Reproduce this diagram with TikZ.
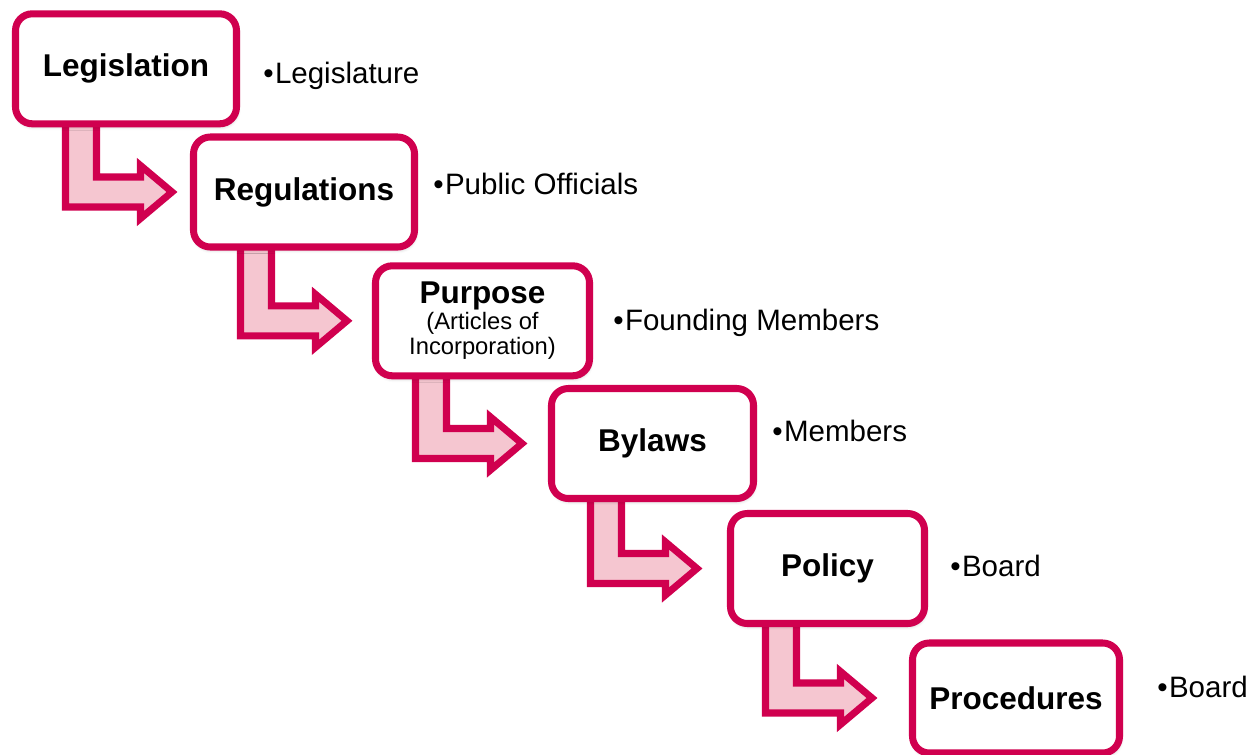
\documentclass[tikz,border=0pt]{standalone}
\usepackage{fontspec}
\setmainfont{Liberation Sans}
\usetikzlibrary{backgrounds,shadows.blur}
\begin{document}
\begin{tikzpicture}[
  stepbox/.style={draw=colorframe, line width=5pt, fill=white, rounded corners=0.42cm,
    minimum height=2.75cm, inner sep=0pt, align=center,
    blur shadow={shadow xshift=0.6pt, shadow yshift=-2pt, shadow blur radius=2.5pt,
      shadow opacity=25},
    font=\bfseries\fontsize{22.4}{26}\selectfont},
  steparrow/.style={draw=colorframe, line width=5pt, fill=colorshaft},
  bullet/.style={anchor=base west, inner sep=0pt, font=\fontsize{21}{25}\selectfont}
]
% Define colors
\definecolor{colorframe}{HTML}{D0004F}
\definecolor{colorshaft}{HTML}{F5C6D0}
\useasboundingbox (0,0) rectangle (31.45,-18.875);
  % Define nodes
  \node[stepbox, minimum width=5.525cm] (A) at (3.15,-1.72) {Legislation};
  \node[stepbox, minimum width=5.525cm] (B) at (7.6,-4.8) {Regulations};
  \node[stepbox, minimum width=5.35cm, font=\fontsize{16.9}{18}\selectfont] (C) at (12.0625,-8.02)
    {{\bfseries\fontsize{22.4}{18}\selectfont Purpose}\\(Articles of\\Incorporation)};
  \node[stepbox, minimum width=5.05cm] (D) at (16.3125,-11.0875) {Bylaws};
  \node[stepbox, minimum width=4.85cm] (E) at (20.6875,-14.2125) {Policy};
  \node[stepbox, minimum width=5.175cm] (F) at (25.4,-17.45) {Procedures};
  % Who sets each step
  \node[bullet] (a) at (6.575,-2.08) {•\kern1pt Legislature};
  \node[bullet] (b) at (10.825,-4.85) {•\kern1pt Public Officials};
  \node[bullet] (c) at (15.325,-8.25) {•\kern1pt Founding Members};
  \node[bullet] (d) at (19.3,-11.04) {•\kern1pt Members};
  \node[bullet] (e) at (23.75,-14.4) {•\kern1pt Board};
  \node[bullet] (f) at (28.925,-17.43) {•\kern1pt Board};
  % Draw arrows (behind the boxes)
  \begin{scope}[on background layer]
  \foreach \src/\dst/\x in {A/B/4.3, B/C/8.675, C/D/13.05, D/E/17.425, E/F/21.8}{
    \coordinate (T) at (\x,0 |- \dst.west);
    \path (T) ++(-2.6625,0) coordinate (L) ++(0.775,0) coordinate (R) ++(1.1,0) coordinate (H);
    \draw[steparrow] (L |- \src.center) -- ([yshift=-3.75mm]L) -- ([yshift=-3.75mm]H)
      -- ([yshift=-6.625mm]H) -- (T) -- ([yshift=6.625mm]H) -- ([yshift=3.75mm]H)
      -- ([yshift=3.75mm]R) -- (R |- \src.center) -- cycle;
  }
  \end{scope}
\end{tikzpicture}
\end{document}
